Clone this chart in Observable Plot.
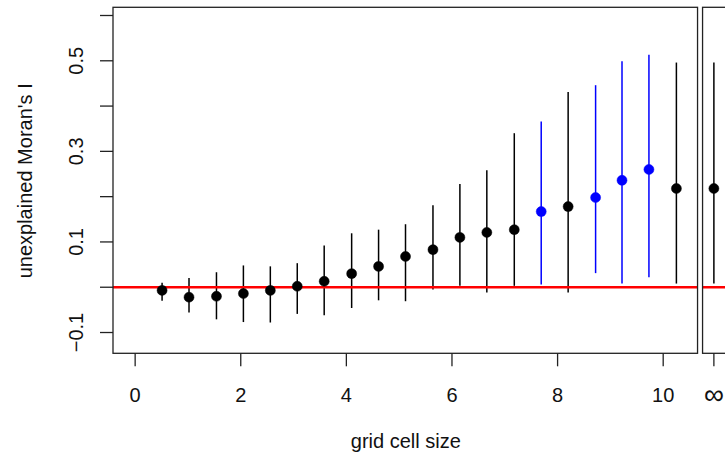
<!DOCTYPE html>
<html>
<head>
<meta charset="utf-8">
<script src="https://cdn.jsdelivr.net/npm/d3@7"></script>
<script src="https://cdn.jsdelivr.net/npm/@observablehq/plot@0.6"></script>
<style>
  html, body { margin: 0; padding: 0; background: #fff; overflow: hidden; }
  #chart { width: 725px; height: 460px; }
</style>
</head>
<body>
<div id="chart"></div>
<script>
// ---- data ----
const gridSizes = [0.51, 1.02, 1.54, 2.05, 2.56, 3.07, 3.58, 4.10, 4.61, 5.12,
                   5.64, 6.15, 6.66, 7.18, 7.69, 8.20, 8.72, 9.22, 9.73, 10.25];
const moranI    = [-0.007, -0.022, -0.020, -0.014, -0.007, 0.002, 0.013, 0.030, 0.046, 0.068,
                   0.083, 0.110, 0.121, 0.127, 0.167, 0.178, 0.198, 0.236, 0.260, 0.218];
const upperCI   = [0.009, 0.019, 0.032, 0.047, 0.045, 0.052, 0.091, 0.118, 0.126, 0.138,
                   0.180, 0.227, 0.257, 0.339, 0.365, 0.430, 0.445, 0.498, 0.512, 0.495];
const lowerCI   = [-0.031, -0.057, -0.072, -0.078, -0.079, -0.060, -0.063, -0.047, -0.030, -0.032,
                   -0.006, 0.002, -0.013, 0.002, 0.005, -0.013, 0.030, 0.007, 0.021, 0.007];
const significant = [false, false, false, false, false, false, false, false, false, false,
                     false, false, false, false, true, false, true, true, true, false];
const infMoranI = 0.218, infUpper = 0.495, infLower = 0.007;
const referenceLine = 0;

const xTickValues = [0, 2, 4, 6, 8, 10];
const yTickValues = [-0.1, 0, 0.1, 0.2, 0.3, 0.4, 0.5, 0.6];
const yTickLabels = [-0.1, 0.1, 0.3, 0.5];
const xTitle = "grid cell size";
const yTitle = "unexplained Moran's I";
const infLabel = "\u221E";

// ---- layout (scale domains / panel extents) ----
const X_DOMAIN = [-0.41, 11.18];
const Y_DOMAIN = [-0.147, 0.617];
const INF_X = 10.96;                 // position of the "infinity" panel column
const panels = [
  {x1: -0.41, x2: 10.66},
  {x1: 10.755, x2: 11.5}
];

const rows = gridSizes.map((x, i) => ({
  x, mean: moranI[i], hi: upperCI[i], lo: lowerCI[i],
  color: significant[i] ? "#0000ff" : "#000000"
}));
rows.push({x: INF_X, mean: infMoranI, hi: infUpper, lo: infLower, color: "#000000"});

const fmt = v => (v < 0 ? "\u2212" + Math.abs(v) : String(v));
const FS = 20;

const chart = Plot.plot({
  width: 725,
  height: 460,
  marginLeft: 113,
  marginRight: 0,
  marginTop: 7.3,
  marginBottom: 106.7,
  style: {fontFamily: "'Liberation Sans', Arial, Helvetica, sans-serif", background: "#fff", overflow: "hidden"},
  x: {domain: X_DOMAIN},
  y: {domain: Y_DOMAIN},
  color: {type: "identity"},
  marks: [
    // error bars
    Plot.ruleX(rows, {x: "x", y1: "lo", y2: "hi", stroke: "color", strokeWidth: 1.5}),
    // zero reference line, clipped per panel
    Plot.ruleY(panels.map(p => ({...p, y: referenceLine})), {y: "y", x1: "x1", x2: "x2", stroke: "#ff0000", strokeWidth: 2.6}),
    // points
    Plot.dot(rows, {x: "x", y: "mean", r: 5, fill: "color", stroke: "color", strokeWidth: 0.5}),
    // panel boxes
    Plot.rect(panels, {x1: "x1", x2: "x2", y1: () => Y_DOMAIN[0], y2: () => Y_DOMAIN[1],
                       fill: "none", stroke: "#222", strokeWidth: 1.3}),
    // ticks
    Plot.axisX(xTickValues, {tickSize: 13, tickFormat: () => "", label: null, stroke: "#222", strokeWidth: 1.3}),
    Plot.axisX([INF_X], {tickSize: 13, tickFormat: () => "", label: null, stroke: "#222", strokeWidth: 1.3}),
    Plot.axisY(yTickValues, {tickSize: 13, tickFormat: () => "", label: null, stroke: "#222", strokeWidth: 1.3}),
    // tick labels
    Plot.text(xTickValues, {x: d => d, text: d => String(d), frameAnchor: "bottom", dy: 41.5,
                            fontSize: FS, fill: "#111", textAnchor: "middle", lineAnchor: "middle"}),
    Plot.text([infLabel], {x: () => INF_X, text: d => d, frameAnchor: "bottom", dy: 41,
                           fontSize: 28, fill: "#111", textAnchor: "middle", lineAnchor: "middle"}),
    Plot.text(yTickLabels, {y: d => d, text: fmt, frameAnchor: "left", dx: -37.2, rotate: -90,
                            fontSize: FS, fill: "#111", textAnchor: "middle", lineAnchor: "middle"}),
    // axis titles
    Plot.text([xTitle], {x: () => (panels[0].x1 + panels[0].x2) / 2, text: d => d, frameAnchor: "bottom",
                         dy: 87.3, fontSize: FS, fill: "#111", textAnchor: "middle", lineAnchor: "middle"}),
    Plot.text([yTitle], {text: d => d, frameAnchor: "left", dx: -88.4, rotate: -90,
                         fontSize: FS, fill: "#111", textAnchor: "middle", lineAnchor: "middle"})
  ]
});
document.getElementById("chart").appendChild(chart);
</script>
</body>
</html>
